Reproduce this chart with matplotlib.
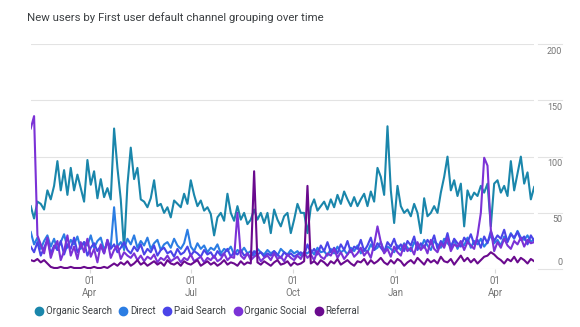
import matplotlib
matplotlib.use("Agg")
import matplotlib.pyplot as plt
import matplotlib.dates as mdates
from matplotlib.lines import Line2D
import pandas as pd

plt.rcParams['font.family'] = ['Roboto', 'DejaVu Sans']

# one value every 3 days
dates = pd.date_range('2022-02-07', periods=152, freq='3D')

organic_search = [
    56, 45, 60, 58, 53, 70, 62, 74, 96, 70, 88, 66, 90, 70, 84, 72, 60, 97, 75, 87,
    63, 80, 64, 72, 62, 125, 90, 62, 17, 75, 108, 80, 90, 62, 60, 55, 63, 79, 56, 58,
    50, 55, 46, 61, 58, 55, 67, 58, 79, 66, 56, 61, 52, 55, 49, 30, 46, 50, 43, 67,
    50, 43, 56, 44, 50, 40, 44, 53, 44, 50, 41, 50, 32, 53, 44, 38, 47, 50, 32, 44,
    58, 50, 50, 32, 55, 62, 52, 56, 60, 53, 62, 55, 66, 58, 69, 62, 56, 64, 56, 62,
    67, 56, 69, 60, 90, 82, 66, 127, 70, 41, 74, 56, 50, 53, 47, 58, 50, 32, 63, 47,
    50, 56, 50, 68, 82, 100, 70, 79, 65, 76, 38, 70, 62, 68, 65, 74, 68, 76, 38, 76,
    79, 68, 74, 65, 96, 70, 85, 100, 76, 86, 62, 73]

direct = [
    33, 22, 28, 18, 25, 30, 20, 27, 17, 24, 31, 19, 26, 22, 29, 18, 24, 21, 30, 19,
    25, 28, 17, 23, 20, 55, 20, 24, 18, 27, 22, 30, 19, 25, 21, 28, 18, 23, 26, 17,
    22, 24, 19, 27, 21, 18, 23, 35, 20, 16, 23, 18, 21, 15, 19, 17, 22, 14, 18, 16,
    20, 13, 17, 15, 19, 14, 16, 12, 18, 15, 13, 17, 14, 16, 12, 18, 15, 13, 17, 14,
    16, 12, 15, 14, 17, 13, 19, 15, 16, 12, 18, 14, 20, 15, 17, 13, 19, 16, 21, 14,
    18, 15, 22, 17, 19, 24, 16, 20, 18, 15, 21, 17, 23, 19, 16, 24, 20, 18, 26, 21,
    17, 25, 22, 19, 27, 23, 20, 26, 18, 24, 21, 28, 19, 25, 22, 27, 20, 24, 30, 23,
    26, 21, 29, 25, 32, 27, 34, 28, 26, 30, 24, 27]

paid_search = [
    20, 15, 24, 12, 19, 26, 14, 21, 17, 25, 13, 22, 18, 28, 15, 20, 24, 12, 19, 23,
    16, 21, 14, 26, 18, 22, 15, 19, 24, 17, 14, 20, 16, 22, 13, 18, 15, 21, 12, 17,
    19, 14, 16, 11, 18, 13, 15, 20, 12, 16, 14, 11, 17, 13, 15, 10, 16, 12, 14, 18,
    11, 15, 13, 17, 12, 14, 10, 16, 13, 15, 11, 14, 12, 16, 13, 10, 15, 12, 14, 11,
    13, 15, 12, 22, 14, 18, 13, 21, 16, 24, 15, 19, 14, 22, 17, 25, 15, 20, 18, 26,
    16, 21, 28, 17, 23, 19, 15, 24, 20, 27, 18, 22, 16, 25, 21, 29, 17, 23, 19, 26,
    22, 30, 18, 25, 21, 32, 19, 27, 23, 20, 28, 24, 31, 22, 26, 19, 29, 23, 34, 25,
    30, 27, 35, 24, 31, 28, 33, 26, 29, 22, 30, 25]

organic_social = [
    125, 136, 30, 22, 14, 28, 10, 19, 25, 8, 16, 30, 12, 20, 9, 24, 15, 27, 11, 18,
    6, 22, 14, 26, 10, 17, 21, 9, 15, 12, 10, 14, 8, 12, 7, 11, 9, 13, 6, 10,
    8, 12, 7, 9, 11, 6, 10, 8, 13, 7, 9, 11, 6, 10, 8, 12, 7, 9, 14, 8,
    11, 10, 50, 12, 9, 14, 8, 11, 13, 7, 10, 12, 8, 14, 9, 11, 7, 13, 10, 8,
    12, 9, 15, 10, 13, 8, 16, 11, 9, 14, 12, 18, 10, 15, 9, 13, 17, 11, 14, 19,
    12, 16, 10, 22, 38, 24, 14, 18, 11, 20, 15, 12, 22, 16, 19, 13, 24, 17, 21, 14,
    26, 18, 15, 23, 19, 28, 16, 22, 20, 25, 17, 24, 21, 18, 30, 50, 99, 92, 35, 16,
    24, 19, 27, 21, 18, 25, 22, 28, 20, 26, 23, 24]

referral = [
    8, 7, 9, 6, 8, 5, 2, 1, 1, 2, 1, 1, 2, 1, 1, 1, 2, 1, 1, 2,
    1, 1, 2, 1, 3, 5, 3, 6, 4, 7, 3, 5, 8, 4, 6, 3, 5, 7, 4, 6,
    3, 8, 5, 4, 6, 3, 7, 5, 4, 6, 8, 3, 5, 7, 4, 6, 3, 5, 8, 4,
    6, 5, 3, 7, 4, 6, 5, 87, 6, 4, 7, 5, 3, 6, 8, 4, 5, 7, 3, 6,
    4, 5, 7, 74, 5, 7, 4, 8, 6, 3, 7, 5, 9, 4, 6, 8, 5, 3, 7, 6,
    9, 4, 8, 5, 7, 10, 6, 4, 8, 5, 9, 7, 3, 6, 8, 5, 10, 7, 4, 9,
    6, 8, 5, 11, 7, 6, 9, 4, 8, 12, 7, 10, 6, 9, 5, 8, 11, 12, 15, 13,
    10, 8, 5, 9, 7, 11, 6, 10, 8, 5, 9, 7]

series_names = ['Organic Search', 'Direct', 'Paid Search', 'Organic Social', 'Referral']
series_data = [organic_search, direct, paid_search, organic_social, referral]
colors = ['#1a86ab', '#2b7de3', '#4a44e8', '#7b32d6', '#6a0a8e']

y_ticks = [0, 50, 100, 150, 200]

fig = plt.figure(figsize=(5.8, 3.27), dpi=100)
ax = fig.add_axes([0.053, 0.177, 0.868, 0.688])

for name, vals, c in zip(series_names, series_data, colors):
    ax.plot(dates, vals, color=c, lw=1.5, label=name, solid_joinstyle='round')

ax.set_ylim(0, 200)
ax.set_xlim(dates[0], dates[-1])

# gridlines
for t in y_ticks:
    ax.axhline(t, color='#e3e3e3', lw=0.8, zorder=0)
    ax.plot([1.008, 1.056], [t, t], color='#e3e3e3', lw=0.8,
            transform=ax.get_yaxis_transform(), clip_on=False)
    dy = 5 if t == 0 else -5
    ax.annotate(str(t), xy=(1.056, t), xycoords=ax.get_yaxis_transform(),
                xytext=(0, dy), textcoords='offset points',
                ha='right', va='center', fontsize=6.5, color='#757575')

for s in ax.spines.values():
    s.set_visible(False)
ax.set_yticks([])

ax.xaxis.set_major_locator(mdates.MonthLocator(bymonth=[1, 4, 7, 10]))
ax.xaxis.set_major_formatter(mdates.DateFormatter('%d\n%b'))
ax.tick_params(axis='x', length=3, color='#dadada', labelcolor='#757575',
               labelsize=7, pad=2)

# title
fig.text(0.047, 0.945, 'New users by First user default channel grouping over time',
         fontsize=8.2, color='#3c4043', ha='left', va='center')

handles = [Line2D([], [], linestyle='none', marker='o', markersize=6,
                  color=c) for c in colors]
fig.legend(handles, series_names, loc='center left', bbox_to_anchor=(0.045, 0.048),
           ncol=5, frameon=False, fontsize=7, handlelength=0.8,
           handletextpad=0.3, columnspacing=0.8, labelcolor='#3c4043')

fig.savefig('out.png', dpi=100)
